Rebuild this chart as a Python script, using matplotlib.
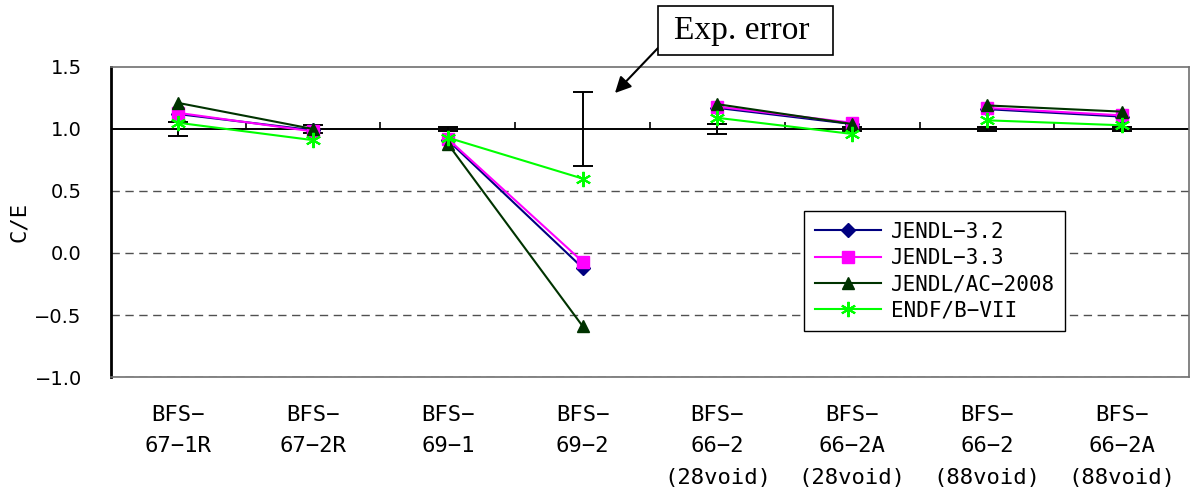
import matplotlib
matplotlib.use("Agg")
import matplotlib.pyplot as plt
from matplotlib.patches import Rectangle
import numpy as np

# Critical assemblies (BFS series)
categories = [
    "BFS−\n67−1R",
    "BFS−\n67−2R",
    "BFS−\n69−1",
    "BFS−\n69−2",
    "BFS−\n66−2\n(28void)",
    "BFS−\n66−2A\n(28void)",
    "BFS−\n66−2\n(88void)",
    "BFS−\n66−2A\n(88void)",
]

# C/E values per nuclear data library
jendl32 = [1.12, 0.99, 0.91, -0.12, 1.17, 1.04, 1.16, 1.10]
jendl33 = [1.13, 0.98, 0.92, -0.07, 1.18, 1.05, 1.17, 1.11]
jendl_ac2008 = [1.21, 1.00, 0.88, -0.59, 1.20, 1.04, 1.19, 1.14]
endf_b7 = [1.05, 0.91, 0.93, 0.60, 1.09, 0.96, 1.07, 1.03]

# Experimental uncertainty (around C/E = 1)
exp_error = [0.055, 0.03, 0.02, 0.30, 0.04, 0.02, 0.02, 0.02]

# Assemblies compared pairwise: points are joined only within a pair
pairs = [(0, 1), (2, 3), (4, 5), (6, 7)]

series_labels = ["JENDL−3.2", "JENDL−3.3", "JENDL/AC−2008", "ENDF/B−VII"]
yticks = [-1.0, -0.5, 0.0, 0.5, 1.0, 1.5]

MONO = ["DejaVu Sans Mono", "DejaVu Sans"]

fig = plt.figure(figsize=(11.92, 4.90), dpi=100)
ax = fig.add_axes([0.0931, 0.2306, 0.9044, 0.6327])

x = np.arange(len(categories))

# dashed grid
for yv in yticks:
    if yv in (1.0, 1.5):
        continue
    ax.axhline(yv, color="#505050", lw=1.0, ls=(0, (6, 4)), zorder=1)

# reference line at C/E = 1 with category separators
ax.axhline(1.0, color="black", lw=1.4, zorder=2)
bounds = np.arange(len(categories) - 1) + 0.5
ax.vlines(bounds, 1.0, 1.06, color="black", lw=1.2, zorder=2)

# experimental error bars
ax.errorbar(x, np.ones(len(x)), yerr=exp_error, fmt="none", ecolor="black",
            elinewidth=1.4, capsize=7, capthick=1.4, zorder=3)

styles = [
    (jendl32, dict(color="#000080", marker="D", ms=7), 4),
    (jendl33, dict(color="#FF00FF", marker="s", ms=8), 4),
    (jendl_ac2008, dict(color="#003300", marker="^", ms=9), 5),
    (endf_b7, dict(color="#00FF00", marker=(6, 2, 0), ms=11, mew=1.5), 5),
]
for (vals, st, z), lab in zip(styles, series_labels):
    vals = np.asarray(vals)
    for k, (i, j) in enumerate(pairs):
        idx = [i, j]
        ax.plot(x[idx], vals[idx], lw=1.5, zorder=z,
                label=lab if k == 0 else None, **st)

ax.set_xlim(-0.5, len(categories) - 0.5)
ax.set_ylim(-1.0, 1.5)
ax.set_yticks(yticks)
ax.set_yticklabels([f"{v:.1f}".replace("-", "−") for v in yticks],
                   family="DejaVu Sans", fontsize=14)
ax.tick_params(axis="y", length=0, pad=21)

ax.set_xticks(x)
ax.set_xticklabels(categories, family=MONO, fontsize=16, linespacing=1.72,
                   va="top")
ax.tick_params(axis="x", length=0, pad=20)

ax.set_ylabel("C/E", family=MONO, fontsize=16, labelpad=4)

for side in ("top", "right", "bottom"):
    ax.spines[side].set_color("#707070")
    ax.spines[side].set_linewidth(1.2)
ax.spines["left"].set_color("black")
ax.spines["left"].set_linewidth(2.0)

leg = ax.legend(loc="upper left", bbox_to_anchor=(0.643, 0.535),
                prop={"family": MONO, "size": 15}, frameon=True,
                fancybox=False, edgecolor="black", framealpha=1,
                handlelength=3.2, handletextpad=0.45, labelspacing=0.3,
                borderpad=0.5, borderaxespad=0)
leg.get_frame().set_linewidth(1.0)

# "Exp. error" callout
fig.patches.append(Rectangle((658 / 1192, 1 - 55 / 490), 175 / 1192, 49 / 490,
                             transform=fig.transFigure, fill=True,
                             facecolor="white", edgecolor="black", lw=1.2))
fig.text(742 / 1192, 1 - 31 / 490, "Exp. error", family="Liberation Serif",
         fontsize=24, ha="center", va="center")
ax.annotate("", xy=(3.24, 1.29), xycoords="data",
            xytext=(658 / 1192, 1 - 48 / 490), textcoords="figure fraction",
            arrowprops=dict(arrowstyle="-|>", color="black", lw=1.5,
                            mutation_scale=24, shrinkA=0, shrinkB=0))

fig.savefig("out.png", dpi=100)
